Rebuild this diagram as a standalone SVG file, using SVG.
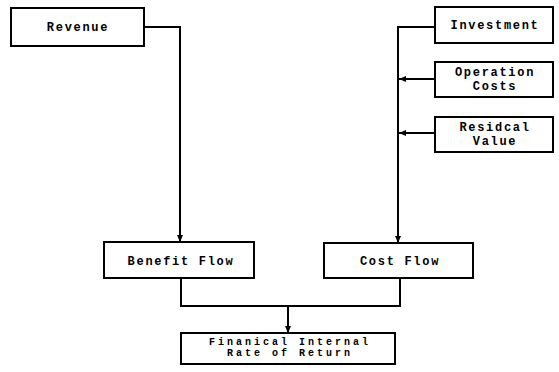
<svg xmlns="http://www.w3.org/2000/svg" width="559" height="372" viewBox="0 0 559 372">
<style>
.box{fill:#fff;stroke:#000;stroke-width:2}
.t{font-family:"Liberation Mono",monospace;font-weight:bold;font-size:12px;letter-spacing:1.7px;text-anchor:middle;fill:#000}
.s{font-size:10px;letter-spacing:3px}
.c{fill:none;stroke:#000;stroke-width:2}
</style>
<defs>
<marker id="ah" markerUnits="userSpaceOnUse" markerWidth="8" markerHeight="8" refX="7" refY="4" orient="auto">
<path d="M0,1 L7,4 L0,7 Z" fill="#000"/>
</marker>
</defs>
<rect width="559" height="372" fill="#fff"/>
<g id="connectors">
<path class="c" d="M144,27 H180 V242" marker-end="url(#ah)"/>
<path class="c" d="M435,27 H398 V243" marker-end="url(#ah)"/>
<path class="c" d="M435,79 H399" marker-end="url(#ah)"/>
<path class="c" d="M435,133 H399" marker-end="url(#ah)"/>
<path class="c" d="M181,278 V306 H400 V278"/>
<path class="c" d="M288,306 V333" marker-end="url(#ah)"/>
</g>
<g id="revenue"><rect class="box" x="11" y="8" width="133" height="38"/><text class="t" x="78" y="31">Revenue</text></g>
<g id="investment"><rect class="box" x="435" y="7" width="118" height="36"/><text class="t" x="495" y="29">Investment</text></g>
<g id="operation"><rect class="box" x="435" y="62" width="118" height="35"/><text class="t" x="495" y="76">Operation</text><text class="t" x="495" y="90">Costs</text></g>
<g id="residual"><rect class="box" x="435" y="117" width="118" height="35"/><text class="t" x="495" y="131">Residcal</text><text class="t" x="495" y="145">Value</text></g>
<g id="benefit"><rect class="box" x="104" y="242" width="150" height="36"/><text class="t" x="181" y="265">Benefit Flow</text></g>
<g id="cost"><rect class="box" x="324" y="243" width="149" height="35"/><text class="t" x="400" y="265">Cost Flow</text></g>
<g id="firr"><rect class="box" x="181" y="333" width="214" height="31"/><text class="t s" x="290" y="345">Finanical Internal</text><text class="t s" x="290" y="356">Rate of Return</text></g>
</svg>
